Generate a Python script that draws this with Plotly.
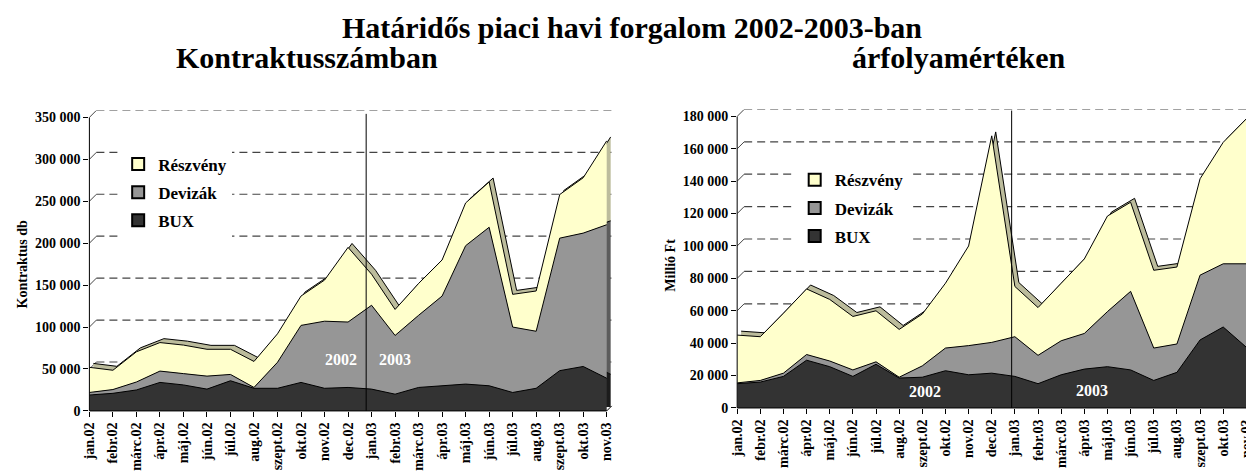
import plotly.graph_objects as go

months = ["jan.02", "febr.02", "márc.02", "ápr.02", "máj.02", "jún.02", "júl.02", "aug.02",
          "szept.02", "okt.02", "nov.02", "dec.02", "jan.03", "febr.03", "márc.03", "ápr.03",
          "máj.03", "jún.03", "júl.03", "aug.03", "szept.03", "okt.03", "nov.03"]

# Kontraktusszámban (db)
left_bux = [19000, 21000, 25000, 34000, 31000, 26000, 36000, 27000, 27000, 34000, 27000, 28000,
            26000, 20000, 28000, 30000, 32000, 30000, 22000, 27000, 48000, 53000, 39000]
left_deviza = [3000, 4500, 9500, 13500, 13500, 15500, 7500, 1000, 31000, 68000, 80000, 78000,
               100000, 70000, 86000, 107000, 165000, 189000, 78000, 68000, 158000, 159000, 183000]
left_reszveny = [30000, 23000, 36000, 34000, 34000, 32000, 30000, 31000, 34000, 35000, 49000, 89000,
                 37000, 31000, 38000, 43000, 51000, 54000, 39000, 48000, 52000, 66000, 100000]

# árfolyamértéken (millió Ft)
right_bux = [15000, 16000, 19500, 29500, 25500, 19500, 27000, 18500, 19000, 23000, 20500, 21500,
             19500, 15000, 20500, 24000, 25500, 23500, 17000, 22000, 42000, 50000, 37500]
right_deviza = [500, 1000, 2000, 3500, 3500, 4000, 1500, 500, 7000, 14000, 18000, 19000,
                24500, 17500, 21000, 22000, 34000, 48500, 20000, 17500, 40000, 39000, 51500]
right_reszveny = [29500, 27000, 37000, 40500, 38000, 33000, 31500, 29500, 32000, 40000, 61500, 127500,
                  31000, 29500, 35500, 46000, 59000, 55000, 48000, 47500, 59500, 75000, 89500]

series_names = ["BUX", "Devizák", "Részvény"]
series_colors = ["#333333", "#969696", "#FFFFCC"]
side_colors = ["#1c1c1c", "#5c5c5c", "#bcbc9c"]   # 3D depth faces
left_ticks = [50000, 100000, 150000, 200000, 250000, 300000, 350000]
right_ticks = [20000, 40000, 60000, 80000, 100000, 120000, 140000, 160000, 180000]
LEFT_MAX, RIGHT_MAX = 350000, 180000

# page body has an 8px margin; work in screen px and convert
OFF = 8
SCREEN_W, SCREEN_H = 1254, 472
W, H = SCREEN_W - OFF, SCREEN_H - OFF
FONT = "Liberation Serif"
DEPTH = 7   # back wall offset in px
RIBBON = 4  # depth of the area ribbons in px
N = len(months) - 1


def px(x):
    return (x - OFF) / W


def py(y):
    return 1 - (y - OFF) / H


fig = go.Figure()

axis_font = dict(family=FONT, size=14, color="black", weight="bold")
xfont = dict(family=FONT, size=14, color="black", weight="bold")
common_front_x = dict(type="category", categoryorder="array", categoryarray=months,
                      tickmode="array", tickvals=months, ticktext=months, tickangle=-90,
                      ticks="outside", ticklen=5, tickcolor="black", showline=False,
                      showgrid=False, zeroline=False, tickfont=xfont)
common_front_y = dict(tickformat=",d", ticks="outside", ticklen=5, tickcolor="black", showline=False,
                      showgrid=False, zeroline=False, tickfont=axis_font)

shapes = []
layout_axes = {}


def add_panel(bx, by, fx, fy, leg, data, left, right, bottom, top, ymax, ticks):
    ppx = (right - left) / N
    ppy = (bottom - top) / ymax
    extra = min(DEPTH, SCREEN_W - right)
    # base (ribbon depth) subplot: domain enlarged by the wall depth
    layout_axes["xaxis" + bx[1:]] = dict(domain=[px(left), px(right + extra)], anchor=by,
                                         type="category", categoryorder="array",
                                         categoryarray=months,
                                         range=[-RIBBON / ppx, N + (extra - RIBBON) / ppx],
                                         visible=False)
    layout_axes["yaxis" + by[1:]] = dict(domain=[py(bottom), py(top - DEPTH)], anchor=bx,
                                         range=[-RIBBON / ppy, ymax + (DEPTH - RIBBON) / ppy],
                                         visible=False)
    layout_axes["xaxis" + fx[1:]] = dict(overlaying=bx, anchor=fy, range=[0, N + extra / ppx],
                                         **common_front_x)
    layout_axes["yaxis" + fy[1:]] = dict(overlaying=by, anchor=fx, range=[0, ymax + DEPTH / ppy],
                                         dtick=ticks[0], **common_front_y)
    # depth faces (same data, drawn on the shifted back axes)
    for name, color, vals in zip(series_names, side_colors, data):
        fig.add_trace(go.Scatter(
            x=months, y=vals, mode="lines", stackgroup="back" + bx, name=name,
            line=dict(color="black", width=1), fillcolor=color,
            xaxis=bx, yaxis=by, showlegend=False, hoverinfo="skip"))
    # front faces
    for name, color, vals in zip(series_names, series_colors, data):
        fig.add_trace(go.Scatter(
            x=months, y=vals, mode="lines", stackgroup="front" + fx, name=name,
            line=dict(color="black", width=1), fillcolor=color,
            xaxis=fx, yaxis=fy, showlegend=False, hoverinfo="x+y+name"))
    for name, color in reversed(list(zip(series_names, series_colors))):
        fig.add_trace(go.Scatter(
            x=[None], y=[None], mode="markers", name=name, legend=leg,
            legendgroup=leg + name,
            marker=dict(symbol="square", size=13, color=color, line=dict(color="black", width=1)),
            xaxis=fx, yaxis=fy, showlegend=True))
    # dashed back-wall gridlines with 3D offset
    length = right - left
    for t in ticks:
        shapes.append(dict(type="line", xref=fx, yref=fy, xsizemode="pixel", ysizemode="pixel",
                           xanchor=0, yanchor=t, x0=DEPTH, x1=length + 1, y0=DEPTH, y1=DEPTH,
                           line=dict(color="#444444", width=1.2, dash="8px,5px"), layer="below"))
        shapes.append(dict(type="line", xref=fx, yref=fy, xsizemode="pixel", ysizemode="pixel",
                           xanchor=0, yanchor=t, x0=0, x1=DEPTH, y0=0, y1=DEPTH,
                           line=dict(color="#444444", width=1), layer="below"))
    # axis lines (front)
    shapes.append(dict(type="line", xref=fx + " domain", yref=fy, x0=0, x1=0, y0=0, y1=ymax,
                       line=dict(color="black", width=1)))
    shapes.append(dict(type="line", xref=fx, yref=fy + " domain", x0=0, x1=N, y0=0, y1=0,
                       line=dict(color="black", width=1)))
    shapes.append(dict(type="line", xref=fx, yref=fy, xsizemode="pixel", ysizemode="pixel",
                       xanchor=N, yanchor=0, x0=0, x1=RIBBON + 1, y0=0, y1=RIBBON + 1,
                       line=dict(color="black", width=1)))


add_panel("x", "y", "x3", "y3", "legend", [left_bux, left_deviza, left_reszveny],
          83, 604.5, 418, 119.3, LEFT_MAX, left_ticks)
add_panel("x2", "y2", "x4", "y4", "legend2", [right_bux, right_deviza, right_reszveny],
          736, 1249.3, 415, 118.3, RIGHT_MAX, right_ticks)

# year separators
shapes.append(dict(type="line", xref="x3", yref="y3", x0=11.77, x1=11.77, y0=0, y1=LEFT_MAX * 1.012,
                   line=dict(color="black", width=1)))
shapes.append(dict(type="line", xref="x4", yref="y4", x0=11.86, x1=11.86, y0=0, y1=RIGHT_MAX * 1.02,
                   line=dict(color="black", width=1)))

big = dict(family=FONT, size=30, color="black", weight="bold")
white = dict(family=FONT, size=16, color="white", weight="bold")
annotations = [
    dict(text="Határidős piaci havi forgalom 2002-2003-ban", x=px(629.5), y=py(28),
         xref="paper", yref="paper", showarrow=False, xanchor="center", yanchor="middle", font=big),
    dict(text="Kontraktusszámban", x=px(302), y=py(58), xref="paper", yref="paper",
         showarrow=False, xanchor="center", yanchor="middle", font=big),
    dict(text="árfolyamértéken", x=px(960), y=py(58), xref="paper", yref="paper",
         showarrow=False, xanchor="center", yanchor="middle", font=big),
    dict(text="Kontraktus db", x=px(16), y=py(268), xref="paper", yref="paper",
         showarrow=False, textangle=-90, xanchor="center", yanchor="middle", font=axis_font),
    dict(text="Millió Ft", x=px(668.5), y=py(270), xref="paper", yref="paper",
         showarrow=False, textangle=-90, xanchor="center", yanchor="middle", font=axis_font),
    dict(text="2002", x=10.7, y=61000, xref="x3", yref="y3", showarrow=False, font=white),
    dict(text="2003", x=13.0, y=61000, xref="x3", yref="y3", showarrow=False, font=white),
    dict(text="2002", x=8.1, y=10300, xref="x4", yref="y4", showarrow=False, font=white),
    dict(text="2003", x=15.35, y=10500, xref="x4", yref="y4", showarrow=False, font=white),
]

legend_font = dict(family=FONT, size=17, color="black", weight="bold")
fig.update_layout(
    width=W, height=H, margin=dict(l=0, r=0, t=0, b=0),
    paper_bgcolor="white", plot_bgcolor="white", separators=". ",
    shapes=shapes, annotations=annotations,
    legend=dict(x=px(112), y=py(149), xanchor="left", yanchor="top", bgcolor="white",
                font=legend_font, traceorder="grouped", tracegroupgap=3, itemsizing="constant"),
    legend2=dict(x=px(794), y=py(165), xanchor="left", yanchor="top", bgcolor="white",
                 font=legend_font, traceorder="grouped", tracegroupgap=3, itemsizing="constant"),
    showlegend=True,
    **layout_axes,
)

fig.write_html("out.html")
